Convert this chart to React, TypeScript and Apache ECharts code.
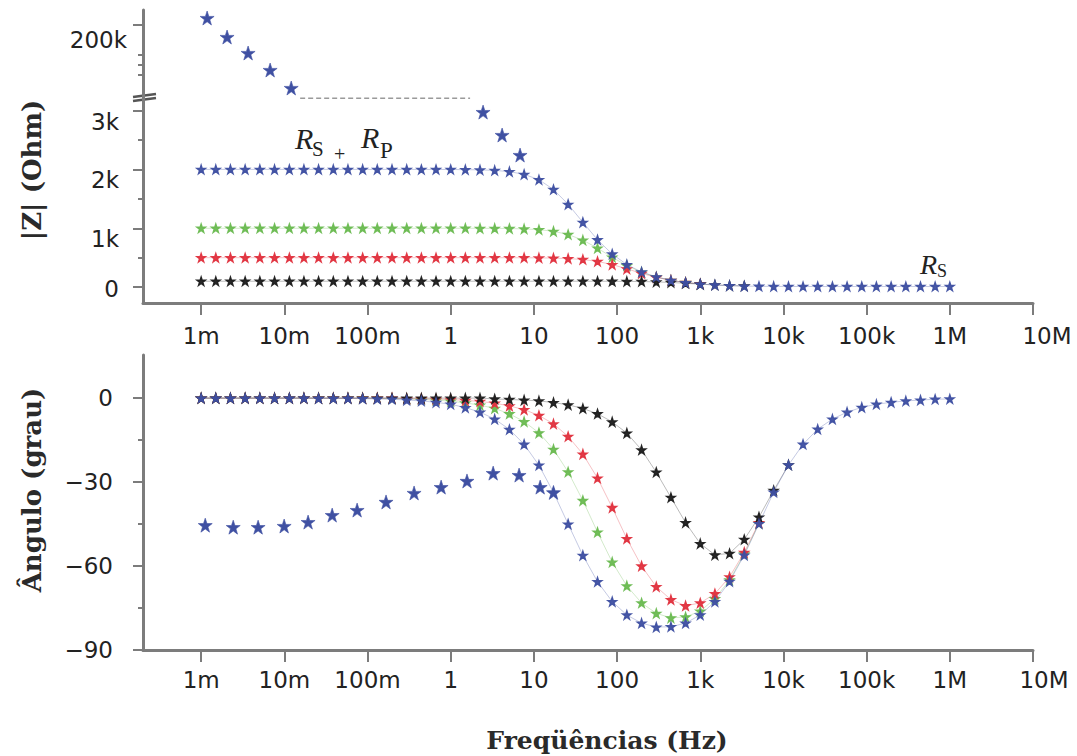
import React, { useEffect, useRef } from "react";
import * as echarts from "echarts";

// Sweep frequencies (Hz), 1 mHz .. 1 MHz
const FREQ = [
  0.001, 0.0015, 0.00225, 0.00338, 0.00508, 0.00763, 0.0115, 0.0172, 0.0258, 0.0388, 0.0582, 0.0874,
  0.131, 0.197, 0.296, 0.444, 0.666, 1, 1.5, 2.25, 3.38, 5.08, 7.63, 11.5, 17.2, 25.8, 38.8, 58.2, 87.4,
  131, 197, 296, 444, 666, 1000, 1500, 2250, 3380, 5080, 7630, 11500, 17200, 25800, 38800, 58200, 87400,
  131000, 197000, 296000, 444000, 666000, 1000000,
];

// |Z| (Ohm) for the four RC circuits
const Z_BLUE = [
  2000, 2000, 2000, 2000, 2000, 2000, 2000, 2000, 2000, 2000, 2000, 2000, 2000, 2000, 2000, 1999, 1999,
  1998, 1996, 1992, 1983, 1962, 1916, 1825, 1659, 1407, 1101, 804, 562, 383, 258, 173, 115, 77, 52, 36, 25,
  18, 14, 12, 11, 10, 10, 10, 10, 10, 10, 10, 10, 10, 10, 10,
];
const Z_GREEN = [
  1000, 1000, 1000, 1000, 1000, 1000, 1000, 1000, 1000, 1000, 1000, 1000, 1000, 1000, 1000, 1000, 1000, 1000,
  1000, 999, 998, 995, 989, 976, 948, 894, 798, 662, 507, 365, 253, 172, 115, 78, 52,
];
const Z_RED = [
  500, 500, 500, 500, 500, 500, 500, 500, 500, 500, 500, 500, 500, 500, 500, 500, 500, 500, 500, 500, 500,
  499, 499, 497, 493, 485, 469, 436, 383, 311, 233, 166, 114, 78, 53,
];
const Z_BLACK = [
  100, 100, 100, 100, 100, 100, 100, 100, 100, 100, 100, 100, 100, 100, 100, 100, 100, 100, 100, 100, 100,
  100, 100, 100, 100, 100, 100, 100, 99, 97, 95, 89, 79, 65, 50, 37, 26, 19,
];

// Phase (degrees) for the same circuits
const P_BLUE = [
  0, 0, 0, 0, 0, 0, 0, 0, -0.1, -0.1, -0.1, -0.2, -0.3, -0.4, -0.7, -1.0, -1.5, -2.2, -3.4, -5.0, -7.5,
  -11.2, -16.5, -24.0, -33.7, -45.0, -56.2, -65.6, -72.7, -77.5, -80.4, -81.8, -81.7, -80.4, -77.5, -72.7,
  -65.5, -56.1, -44.9, -33.6, -23.9, -16.5, -11.1, -7.5, -5.0, -3.3, -2.2, -1.5, -1.0, -0.7, -0.4, -0.3,
];
const P_GREEN = [
  0, 0, 0, 0, 0, 0, 0, 0, 0, 0, 0, 0, -0.1, -0.2, -0.3, -0.5, -0.7, -1.1, -1.7, -2.5, -3.7, -5.6, -8.4,
  -12.4, -18.3, -26.4, -36.6, -47.9, -58.6, -67.1, -73.2, -76.9, -78.5, -78.2, -76.1, -71.7, -65.0, -55.7,
  -44.8,
];
const P_RED = [
  0, 0, 0, 0, 0, 0, 0, 0, 0, 0, 0, 0, 0, 0, -0.2, -0.2, -0.4, -0.5, -0.8, -1.2, -1.8, -2.8, -4.1, -6.2,
  -9.2, -13.7, -20.0, -28.6, -39.1, -50.2, -60.0, -67.4, -72.0, -74.2, -73.2, -69.9, -63.9, -55.1, -44.5,
];
const P_BLACK = [
  0, 0, 0, 0, 0, 0, 0, 0, 0, 0, 0, 0, 0, 0, 0, 0, 0, 0, 0, 0, -0.3, -0.5, -0.7, -1.0, -1.6, -2.4, -3.7,
  -5.6, -8.5, -12.5, -18.5, -26.5, -35.5, -44.5, -52.0, -56.0, -55.5, -50.5, -42.5, -33.0, -23.9,
];

// Capacitive sample (large stars): magnitude above and below the axis break
const STAR_HIGH_F = [0.00118, 0.00205, 0.00367, 0.00675, 0.0121];
const STAR_HIGH_Z = [207000, 188000, 172000, 155000, 137000];
const STAR_LOW_F = [2.45, 4.15, 6.82];
const STAR_LOW_Z = [2974, 2584, 2244];
const BREAK_F = [0.0155, 1.71];
const BREAK_Z = [3210, 3210];
const STAR_PHASE_F = [
  0.00112, 0.00243, 0.00484, 0.00995, 0.0193, 0.0376, 0.075, 0.167, 0.363, 0.767, 1.57, 3.24, 6.64, 11.9, 17.2,
];
const STAR_PHASE = [
  -45.4, -46.1, -46.1, -45.7, -44.3, -41.8, -40.0, -37.1, -33.9, -31.8, -29.6, -26.8, -27.5, -31.8, -33.7,
];

// Axis ticks
const DECADES = [0.001, 0.01, 0.1, 1, 10, 100, 1000, 10000, 100000, 1000000, 10000000];
const DECADE_LABELS = ["1m", "10m", "100m", "1", "10", "100", "1k", "10k", "100k", "1M", "10M"];
const Z_TICKS = [0, 1000, 2000, 3000];
const Z_MINOR = [500, 1500, 2500];
const Z_HIGH_TICKS = [200000];
const Z_HIGH_MINOR = [150000, 160000, 170000];
const P_TICKS = [-90, -60, -30, 0];
const P_MINOR = [-75, -45, -15];

const BLUE = "#3f50a2";
const GREEN = "#6cbb52";
const RED = "#e0333f";
const BLACK = "#1e1e1e";
const AXIS = "#7c7c7c";
const TXT = "#222";
const SANS = "DejaVu Sans";
const STAR =
  "path://M50,0L61.8,35.1L97.6,35.1L68.5,56.7L79.4,91L50,70L20.6,91L31.5,56.7L2.4,35.1L38.2,35.1Z";

const pts = (f: number[], v: number[]) => v.map((y, i) => [f[i], y]);

const curve = (color: string, data: number[][], xi: number, yi: number, z: number) => ({
  type: "line",
  xAxisIndex: xi,
  yAxisIndex: yi,
  data,
  symbol: STAR,
  symbolSize: 8.5,
  itemStyle: { color, borderColor: color, borderWidth: 1.4, opacity: 0.95 },
  lineStyle: { color, width: 1, opacity: 0.3 },
  clip: false,
  silent: true,
  z,
});

const stars = (data: number[][], xi: number, yi: number) => ({
  type: "line",
  xAxisIndex: xi,
  yAxisIndex: yi,
  data,
  symbol: STAR,
  symbolSize: 14,
  itemStyle: { color: BLUE, borderColor: BLUE, borderWidth: 0.6 },
  lineStyle: { width: 0, opacity: 0 },
  clip: false,
  silent: true,
  z: 5,
});

const decadeLabel = (v: number) => {
  const idx = DECADES.findIndex((d) => Math.abs(Math.log10(d) - Math.log10(v)) < 1e-6);
  if (idx < 0) return "";
  const t = DECADE_LABELS[idx];
  return t === "10M" ? "{e|" + t + "}" : "{n|" + t + "}";
};

const xAxisFor = (grid: number, margin: number, lastShift: number[]) => ({
  type: "log",
  logBase: 10,
  gridIndex: grid,
  min: 0.0002,
  max: 10000000,
  axisLine: { show: true, onZero: false, lineStyle: { color: AXIS, width: 3 } },
  axisTick: { show: true, customValues: DECADES, length: 12, lineStyle: { color: AXIS, width: 2 } },
  splitLine: { show: false },
  minorTick: { show: false },
  axisLabel: {
    customValues: DECADES,
    margin,
    formatter: decadeLabel,
    rich: {
      n: { fontSize: 23, fontFamily: SANS, color: TXT },
      e: { fontSize: 23, fontFamily: SANS, color: TXT, padding: lastShift },
    },
  },
});

const minorAxis = (grid: number, min: number, max: number, ticks: number[]) => ({
  type: "value",
  gridIndex: grid,
  position: "left",
  offset: 0,
  min,
  max,
  axisLine: { show: false, onZero: false },
  axisTick: { show: true, customValues: ticks, length: 5, lineStyle: { color: AXIS, width: 2 } },
  axisLabel: { show: false },
  splitLine: { show: false },
});

const option = {
  animation: false,
  backgroundColor: "#ffffff",
  grid: [
    { left: 143, top: 10, width: 890, height: 87 },
    { left: 143, top: 97, width: 890, height: 206 },
    { left: 143, top: 355, width: 890, height: 295 },
  ],
  xAxis: [
    { type: "log", logBase: 10, gridIndex: 0, min: 0.0002, max: 10000000, show: false },
    xAxisFor(1, 21, [0, 0, 10, 28]),
    xAxisFor(2, 18, [0, 0, 26, 22]),
  ],
  yAxis: [
    {
      type: "value",
      gridIndex: 0,
      position: "left",
      min: 128000,
      max: 215000,
      axisLine: { show: true, onZero: false, lineStyle: { color: AXIS, width: 3 } },
      axisTick: { show: true, customValues: Z_HIGH_TICKS, length: 10, lineStyle: { color: AXIS, width: 2 } },
      splitLine: { show: false },
      axisLabel: {
        customValues: Z_HIGH_TICKS,
        margin: 16,
        formatter: (v: number) => "{d|" + v / 1000 + "k}",
        rich: { d: { fontSize: 23, fontFamily: SANS, color: TXT, padding: [30, 0, 0, 0] } },
      },
    },
    minorAxis(0, 128000, 215000, Z_HIGH_MINOR),
    {
      type: "value",
      gridIndex: 1,
      position: "left",
      min: -270,
      max: 3230,
      axisLine: { show: true, onZero: false, lineStyle: { color: AXIS, width: 3 } },
      axisTick: { show: true, customValues: Z_TICKS, length: 10, lineStyle: { color: AXIS, width: 2 } },
      splitLine: { show: false },
      axisLabel: {
        customValues: Z_TICKS,
        margin: 24,
        formatter: (v: number) => (v === 0 ? "{z|0}" : "{d|" + v / 1000 + "k}"),
        rich: {
          z: { fontSize: 23, fontFamily: SANS, color: TXT, padding: [4, 0, 0, 0] },
          d: { fontSize: 23, fontFamily: SANS, color: TXT, padding: [22, 0, 0, 0] },
        },
      },
    },
    minorAxis(1, -270, 3230, Z_MINOR),
    {
      type: "value",
      gridIndex: 2,
      position: "left",
      min: -90,
      max: 15.4,
      axisLine: { show: true, onZero: false, lineStyle: { color: AXIS, width: 3 } },
      axisTick: { show: true, customValues: P_TICKS, length: 10, lineStyle: { color: AXIS, width: 2 } },
      splitLine: { show: false },
      axisLabel: {
        customValues: P_TICKS,
        margin: 30,
        fontSize: 23,
        fontFamily: SANS,
        color: TXT,
        formatter: (v: number) => (v === 0 ? "0" : "\u2212" + Math.abs(v)),
      },
    },
    minorAxis(2, -90, 15.4, P_MINOR),
  ],
  series: [
    // |Z| panel
    curve(GREEN, pts(FREQ, Z_GREEN), 1, 2, 2),
    curve(RED, pts(FREQ, Z_RED), 1, 2, 2),
    curve(BLACK, pts(FREQ, Z_BLACK), 1, 2, 2),
    curve(BLUE, pts(FREQ, Z_BLUE), 1, 2, 3),
    stars(pts(STAR_HIGH_F, STAR_HIGH_Z), 0, 0),
    stars(pts(STAR_LOW_F, STAR_LOW_Z), 1, 2),
    {
      type: "line",
      xAxisIndex: 1,
      yAxisIndex: 2,
      data: pts(BREAK_F, BREAK_Z),
      showSymbol: false,
      symbol: "none",
      lineStyle: { color: "#9a9a9a", width: 1.5, type: [5, 3] },
      clip: false,
      silent: true,
    },
    // Phase panel
    curve(GREEN, pts(FREQ, P_GREEN), 2, 4, 2),
    curve(RED, pts(FREQ, P_RED), 2, 4, 2),
    curve(BLACK, pts(FREQ, P_BLACK), 2, 4, 2),
    curve(BLUE, pts(FREQ, P_BLUE), 2, 4, 3),
    stars(pts(STAR_PHASE_F, STAR_PHASE), 2, 4),
  ],
  graphic: [
    // axis break mark
    { type: "line", shape: { x1: 133, y1: 97, x2: 156, y2: 94 }, style: { stroke: "#555", lineWidth: 2.5 } },
    { type: "line", shape: { x1: 133, y1: 101, x2: 156, y2: 98 }, style: { stroke: "#555", lineWidth: 2.5 } },
    {
      type: "text",
      x: 32,
      y: 170,
      rotation: Math.PI / 2,
      style: { text: "|Z| (Ohm)", font: 'bold 26px "DejaVu Serif"', fill: "#2a2a2a", align: "center", verticalAlign: "middle" },
    },
    {
      type: "text",
      x: 32,
      y: 490,
      rotation: Math.PI / 2,
      style: { text: "Ângulo (grau)", font: 'bold 26px "DejaVu Serif"', fill: "#2a2a2a", align: "center", verticalAlign: "middle" },
    },
    {
      type: "text",
      x: 607,
      y: 740,
      style: { text: "Freqüências (Hz)", font: 'bold 25px "DejaVu Serif"', fill: "#2a2a2a", align: "center", verticalAlign: "middle" },
    },
    // R_S + R_P annotation
    { type: "text", x: 295, y: 138, style: { text: "R", font: 'italic 30px "Liberation Serif"', fill: TXT, verticalAlign: "middle" } },
    { type: "text", x: 312, y: 149, style: { text: "S", font: '21px "Liberation Serif"', fill: TXT, verticalAlign: "middle" } },
    { type: "text", x: 334, y: 154, style: { text: "+", font: '20px "Liberation Serif"', fill: TXT, verticalAlign: "middle" } },
    { type: "text", x: 361, y: 137, style: { text: "R", font: 'italic 30px "Liberation Serif"', fill: TXT, verticalAlign: "middle" } },
    { type: "text", x: 380, y: 150, style: { text: "P", font: '23px "Liberation Serif"', fill: TXT, verticalAlign: "middle" } },
    // R_S annotation
    { type: "text", x: 920, y: 264, style: { text: "R", font: 'italic 28px "Liberation Serif"', fill: TXT, verticalAlign: "middle" } },
    { type: "text", x: 937, y: 271, style: { text: "S", font: '18px "Liberation Serif"', fill: TXT, verticalAlign: "middle" } },
  ],
};

export default function App() {
  const ref = useRef<HTMLDivElement>(null);
  useEffect(() => {
    if (!ref.current) return;
    const chart = echarts.init(ref.current, null, { renderer: "svg" });
    chart.setOption(option as any);
    return () => chart.dispose();
  }, []);
  return (
    <div
      ref={ref}
      style={{ position: "fixed", left: 0, top: 0, width: 1077, height: 756, background: "#fff" }}
    />
  );
}
